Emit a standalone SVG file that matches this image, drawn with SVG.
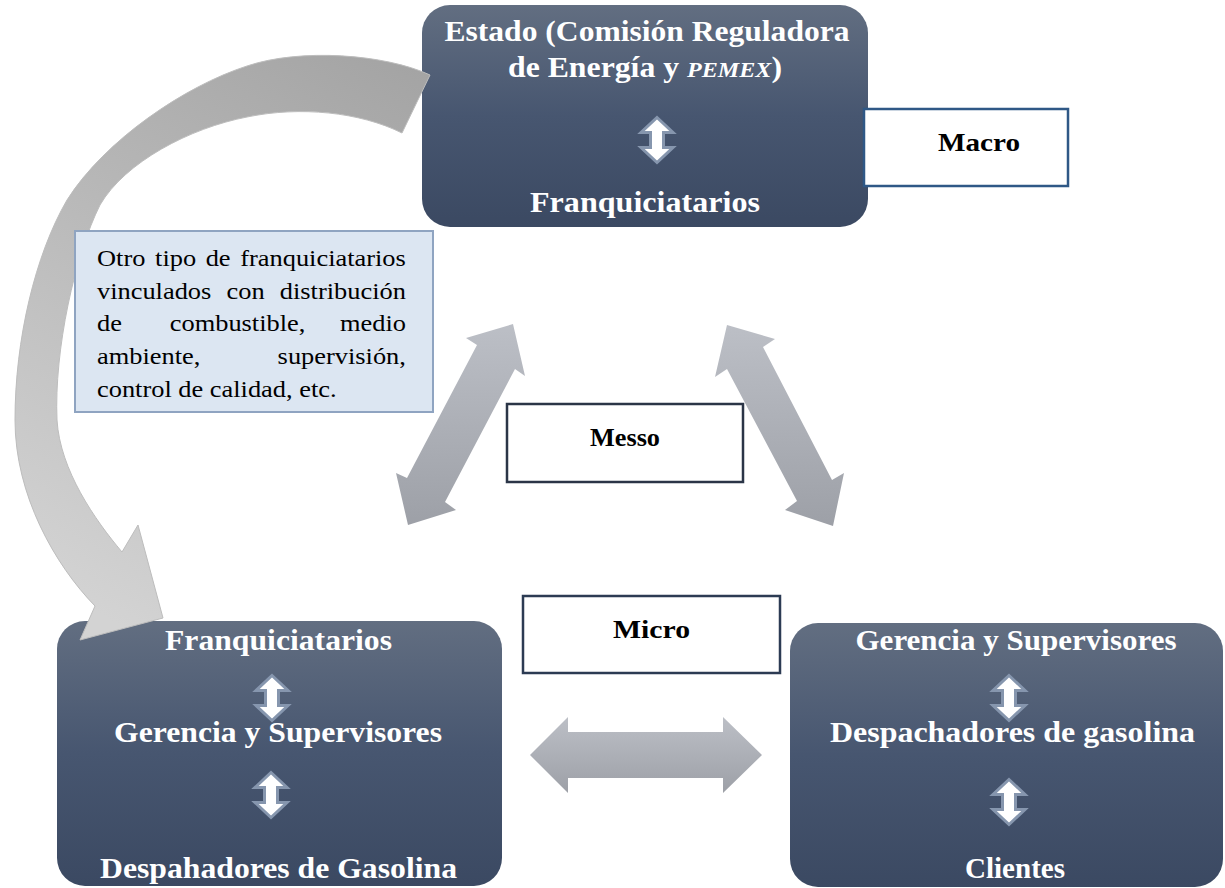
<svg xmlns="http://www.w3.org/2000/svg" xmlns:xlink="http://www.w3.org/1999/xlink" width="1225" height="888" viewBox="0 0 1225 888">
<style>
.box{fill:url(#boxGrad)}
.hd{font-family:"Liberation Serif","Times New Roman",Times,serif;font-weight:bold;font-size:29px;fill:#ffffff;text-anchor:middle}
.lbl{font-family:"Liberation Serif","Times New Roman",Times,serif;font-weight:bold;font-size:25px;fill:#000000;text-anchor:middle}
.body{font-family:"Liberation Serif","Times New Roman",Times,serif;font-size:24px;fill:#000000}
.lvl{fill:#ffffff;stroke-width:2.5}
.sm{fill:#ffffff;stroke:#8696ae;stroke-width:3;stroke-linejoin:miter}
.big{fill:url(#grayGrad)}
</style>
<defs>
<linearGradient id="boxGrad" x1="0" y1="0" x2="0" y2="1">
<stop offset="0" stop-color="#626e81"/>
<stop offset="0.5" stop-color="#475670"/>
<stop offset="1" stop-color="#3b4962"/>
</linearGradient>
<linearGradient id="grayGrad" x1="0" y1="0" x2="0" y2="1">
<stop offset="0" stop-color="#bcbfc6"/>
<stop offset="1" stop-color="#9da0a7"/>
</linearGradient>
<linearGradient id="curveGrad" gradientUnits="userSpaceOnUse" x1="420" y1="70" x2="110" y2="620">
<stop offset="0" stop-color="#a4a4a4"/>
<stop offset="1" stop-color="#d3d3d3"/>
</linearGradient>
<path id="dbl" d="M0,-22.5 L16,-7.5 L6.5,-7.5 L6.5,7.5 L16,7.5 L0,22.5 L-16,7.5 L-6.5,7.5 L-6.5,-7.5 L-16,-7.5 Z"/>
</defs>

<g id="node-estado">
<rect class="box" x="422" y="5" width="446" height="222" rx="28" ry="28"/>
<text class="hd" x="647" y="41" textLength="405" lengthAdjust="spacingAndGlyphs">Estado (Comisión Reguladora</text>
<text class="hd" x="645" y="77" textLength="274" lengthAdjust="spacingAndGlyphs">de Energía y <tspan font-style="italic" font-size="22">PEMEX</tspan>)</text>
<use href="#dbl" class="sm" x="657" y="140"/>
<text class="hd" x="645" y="212" textLength="230" lengthAdjust="spacingAndGlyphs">Franquiciatarios</text>
</g>

<g id="node-franquiciatarios">
<rect class="box" x="57" y="621" width="445" height="265" rx="28" ry="28"/>
<text class="hd" x="278.5" y="650" textLength="227" lengthAdjust="spacingAndGlyphs">Franquiciatarios</text>
<use href="#dbl" class="sm" x="272" y="698"/>
<text class="hd" x="278" y="742" textLength="328" lengthAdjust="spacingAndGlyphs">Gerencia y Supervisores</text>
<use href="#dbl" class="sm" x="271" y="795"/>
<text class="hd" x="278.5" y="878" textLength="357" lengthAdjust="spacingAndGlyphs">Despahadores de Gasolina</text>
</g>

<g id="node-gerencia">
<rect class="box" x="790" y="623" width="433" height="264" rx="28" ry="28"/>
<text class="hd" x="1016" y="650" textLength="321" lengthAdjust="spacingAndGlyphs">Gerencia y Supervisores</text>
<use href="#dbl" class="sm" x="1009" y="698"/>
<text class="hd" x="1012.5" y="742" textLength="365" lengthAdjust="spacingAndGlyphs">Despachadores de gasolina</text>
<use href="#dbl" class="sm" x="1009" y="802"/>
<text class="hd" x="1015" y="878" textLength="100" lengthAdjust="spacingAndGlyphs">Clientes</text>
</g>

<g id="connectors">
<path id="curve" fill="url(#curveGrad)" stroke="#bdbdbd" stroke-width="1" d="M430,75 C385,54 300,48 247,66 C185,86 105,140 67,200 C35,255 15,340 15,420 C15,495 55,565 95,606 L80,640 L163,618 L138,525 L122,552 C95,520 60,470 57,420 C54,350 75,255 100,205 C125,162 190,128 247,117 C300,106 360,112 402,133 Z"/>
<polygon id="arrow-left" class="big" points="513,324 525,376 515,369 445,502 456,510 408,525 396,473 407,478 477,345 466,338"/>
<polygon id="arrow-right" class="big" points="727,325 775,339 763,347 832,480 844,473 833,526 785,510 797,501 727,369 715,377"/>
<polygon id="arrow-horizontal" class="big" points="530,755 568,717 568,732 723,732 723,717 762,755 723,793 723,778 568,778 568,793"/>
</g>

<g id="node-otro">
<rect x="75" y="231" width="358" height="181" fill="#dce6f2" stroke="#8fa4c1" stroke-width="2"/>
<g class="body" transform="matrix(1.1,0,0,1,-9.7,0)">
<text x="97" y="266">Otro</text>
<text x="149.8" y="266">tipo</text>
<text x="195.8" y="266">de</text>
<text x="227.2" y="266">franquiciatarios</text>
<text x="97" y="299">vinculados</text>
<text x="214.75" y="299">con</text>
<text x="263.2" y="299">distribución</text>
<text x="97" y="331">de</text>
<text x="163.15" y="331">combustible,</text>
<text x="317.9" y="331">medio</text>
<text x="97" y="364">ambiente,</text>
<text x="261.2" y="364">supervisión,</text>
<text x="97" y="397">control de calidad, etc.</text>
</g>
</g>

<g id="node-macro">
<rect class="lvl" x="864" y="109" width="204" height="77" stroke="#2f5886"/>
<text class="lbl" x="979" y="151" textLength="82" lengthAdjust="spacingAndGlyphs">Macro</text>
</g>

<g id="node-messo">
<rect class="lvl" x="507" y="404" width="236" height="78" stroke="#2b3547"/>
<text class="lbl" x="625" y="446" textLength="70" lengthAdjust="spacingAndGlyphs">Messo</text>
</g>

<g id="node-micro">
<rect class="lvl" x="523" y="596" width="257" height="77" stroke="#2c3b53"/>
<text class="lbl" x="651.5" y="638" textLength="77" lengthAdjust="spacingAndGlyphs">Micro</text>
</g>
</svg>
